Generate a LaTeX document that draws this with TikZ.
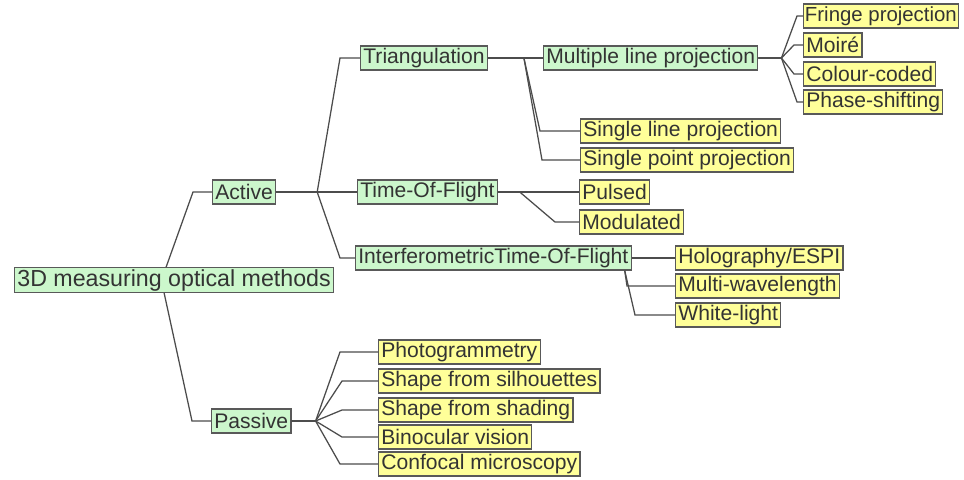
\documentclass[tikz,border=0pt]{standalone}
\usepackage{fontspec}
\setsansfont{Liberation Sans}
\usepackage{tikz}
\usetikzlibrary{calc}
\usepackage{xcolor}
\definecolor{boxgreen}{HTML}{CCF7CC}
\definecolor{boxyellow}{HTML}{FFFF99}

\begin{document}
\begin{tikzpicture}[
  x=0.025cm, y=-0.025cm,
  box/.style={draw=black!65, line width=0.8pt, anchor=west,
              minimum height=0.6cm, inner xsep=2pt, inner ysep=1pt,
              text=black!80, font=\sffamily\fontsize{15}{16}\selectfont},
  method/.style={box, fill=boxgreen},
  technique/.style={box, fill=boxyellow},
  link/.style={draw=black!70, line width=0.9pt}
]
\useasboundingbox (0,0) rectangle (964,479);

\node[method, font=\sffamily\fontsize{16.5}{18}\selectfont] (root) at (14,280) {3D measuring optical methods};
\node[method] (active) at (212,192) {Active};
\node[method] (passive) at (211,421) {Passive};

\node[method] (tri) at (360,58) {Triangulation};
\node[method] (tof) at (357,192) {Time-Of-Flight};
\node[method] (itof) at (355,258) {InterferometricTime-Of-Flight};
\node[method] (mlp) at (543,58) {Multiple line projection};

\node[technique, inner xsep=1pt, font=\sffamily\fontsize{14.5}{16}\selectfont] (fringe) at (803,16) {Fringe projection};
\node[technique] (moire) at (803,45) {Moiré};
\node[technique] (colour) at (803,74) {Colour-coded};
\node[technique] (phase) at (803,102) {Phase-shifting};
\node[technique] (slp) at (580,131) {Single line projection};
\node[technique] (spp) at (580,160) {Single point projection};
\node[technique] (pulsed) at (579,192) {Pulsed};
\node[technique] (modulated) at (579,222) {Modulated};
\node[technique] (holo) at (675,258) {Holography/ESPI};
\node[technique] (multi) at (675,286) {Multi-wavelength};
\node[technique] (white) at (675,315) {White-light};

\node[technique] (photo) at (378,352) {Photogrammetry};
\node[technique] (silh) at (378,381) {Shape from silhouettes};
\node[technique] (shading) at (378,410) {Shape from shading};
\node[technique] (bino) at (378,437) {Binocular vision};
\node[technique] (confocal) at (378,464) {Confocal microscopy};

\draw[link] ($(root.north)+(-8,0)$) -- ($(active.west)+(-19,0)$) -- (active.west);
\draw[link] ($(root.south)+(-10,0)$) -- ($(passive.west)+(-19,0)$) -- (passive.west);

\draw[link] (active.east) -- ++(41,0) -- ($(tri.west)+(-20,0)$) -- (tri.west);
\draw[link] (active.east) -- (tof.west);
\draw[link] (active.east) -- ++(41,0) -- ($(itof.west)+(-15,0)$) -- (itof.west);

\draw[link] (tri.east) -- (mlp.west);
\draw[link] (tri.east) -- ++(36,0) -- ($(slp.west)+(-40,0)$) -- (slp.west);
\draw[link] (tri.east) -- ++(36,0) -- ($(spp.west)+(-38,0)$) -- (spp.west);

\draw[link] (mlp.east) -- ++(23,0) -- ($(fringe.west)+(-6,0)$) -- (fringe.west);
\draw[link] (mlp.east) -- ++(23,0) -- ($(moire.west)+(-9,0)$) -- (moire.west);
\draw[link] (mlp.east) -- ++(23,0) -- ($(colour.west)+(-9,0)$) -- (colour.west);
\draw[link] (mlp.east) -- ++(23,0) -- ($(phase.west)+(-6,0)$) -- (phase.west);

\draw[link] (tof.east) -- (pulsed.west);
\draw[link] (tof.east) -- ++(22,0) -- ($(modulated.west)+(-24,0)$) -- (modulated.west);

\draw[link] (itof.east) -- (holo.west);
\draw[link] ($(itof.south east)+(-7,0)$) -- ($(multi.west)+(-48,0)$) -- (multi.west);
\draw[link] ($(itof.south east)+(-7,0)$) -- ($(white.west)+(-40,0)$) -- (white.west);

\draw[link] (passive.east) -- ++(24,0) -- ($(photo.west)+(-38,0)$) -- (photo.west);
\draw[link] (passive.east) -- ++(24,0) -- ($(silh.west)+(-36,0)$) -- (silh.west);
\draw[link] (passive.east) -- ++(24,0) -- ($(shading.west)+(-36,0)$) -- (shading.west);
\draw[link] (passive.east) -- ++(24,0) -- ($(bino.west)+(-36,0)$) -- (bino.west);
\draw[link] (passive.east) -- ++(24,0) -- ($(confocal.west)+(-38,0)$) -- (confocal.west);
\end{tikzpicture}
\end{document}
